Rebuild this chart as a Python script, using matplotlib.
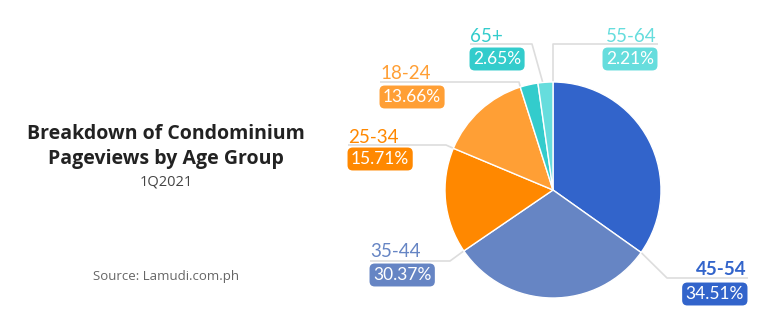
import numpy as np
import matplotlib.pyplot as plt

plt.rcParams['font.family'] = ['Lato', 'DejaVu Sans']

groups = ['45-54', '35-44', '25-34', '18-24', '65+', '55-64']
shares = [34.51, 30.37, 15.71, 13.66, 2.65, 2.21]
colors = ['#3264cb', '#6685c4', '#ff8800', '#ff9f35', '#33cccc', '#66dddd']

# label layout in pixels: (text x, text ha, text bottom y, box center y, elbow)
layout = {
    '45-54': (747, 'right', 275, 294, (667, 278)),
    '35-44': (370, 'left', 257, 275, (450, 261)),
    '25-34': (348, 'left', 143, 159, (446, 145)),
    '18-24': (380, 'left', 79, 97, (519, 82)),
    '65+': (470, 'left', 42, 59, (532, 44)),
    '55-64': (657, 'right', 42, 59, (553, 44)),
}

W, H = 775, 332
cx, cy, r = 553, 190, 108

fig = plt.figure(figsize=(W / 100, H / 100), dpi=100)

ax = fig.add_axes([(cx - r) / W, (H - cy - r) / H, 2 * r / W, 2 * r / H])
ax.pie(shares, colors=colors, startangle=90, counterclock=False, radius=1,
       wedgeprops=dict(edgecolor='white', linewidth=1))
ax.set_xlim(-1, 1)
ax.set_ylim(-1, 1)
ax.set_aspect('equal')

ov = fig.add_axes([0, 0, 1, 1], zorder=-1)
ov.set_xlim(0, W)
ov.set_ylim(H, 0)
ov.axis('off')

total = sum(shares)
ends = 90 - 360 * np.cumsum(shares) / total
for g, s, c, a in zip(groups, shares, colors, ends):
    tx, ha, ty, by, (ex, ey) = layout[g]
    ang = np.radians(a)
    px = cx + r * np.cos(ang)
    py = cy - r * np.sin(ang)
    if g == '55-64':
        px, py = cx, cy - r
    if g == '65+':
        px += 5
    end_x = tx if ha == 'left' else tx + 1
    ov.plot([px, ex, end_x], [py, ey, ey], color='#dddddd', lw=1.2,
            solid_capstyle='butt')
    ov.text(tx, ty, g, color=c, fontsize=13.5, ha=ha, va='baseline',
            fontweight='bold' if g == '45-54' else 'normal')
    bx = tx + 3 if ha == 'left' else tx - 3
    ov.text(bx, by, f'{s:.2f}%', color='white',
            fontsize=12.5, ha=ha, va='center',
            bbox=dict(boxstyle='round,pad=0.2,rounding_size=0.3',
                      fc=c, ec='none'))

tfont = ['Open Sans', 'DejaVu Sans']
fig.text(166 / W, 1 - 139 / H, 'Breakdown of Condominium', ha='center',
         va='baseline', fontsize=14, fontweight='bold', color='#222222',
         family=tfont)
fig.text(166 / W, 1 - 164 / H, 'Pageviews by Age Group', ha='center',
         va='baseline', fontsize=14, fontweight='bold', color='#222222',
         family=tfont)
fig.text(166 / W, 1 - 185 / H, '1Q2021', ha='center', va='baseline',
         fontsize=10.5, color='#444444', family=tfont)
fig.text(166 / W, 1 - 280 / H, 'Source: Lamudi.com.ph', ha='center',
         va='baseline', fontsize=9.5, color='#666666', family=tfont)

fig.savefig('out.png', dpi=100, facecolor='white')
